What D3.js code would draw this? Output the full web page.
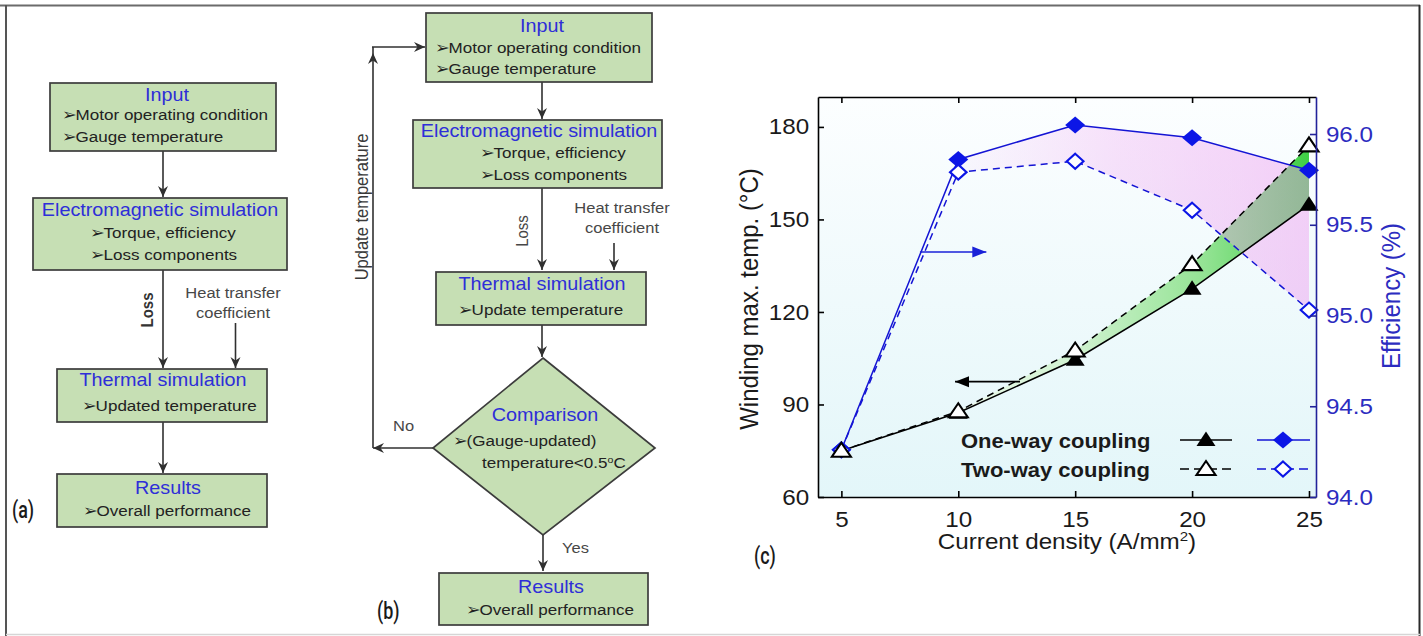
<!DOCTYPE html>
<html>
<head>
<meta charset="utf-8">
<script src="https://cdn.jsdelivr.net/npm/d3@7"></script>
<style>
  html, body { margin: 0; padding: 0; background: #fff; }
  svg { display: block; font-family: "Liberation Sans", Arial, Helvetica, sans-serif; }
</style>
</head>
<body>
<svg id="fig" width="1423" height="636"></svg>
<script>
// ---- data: panel (c) ----
const currentDensity = [5, 10, 15, 20, 25];                 // A/mm^2
const tempOneWay     = [75, 87.3, 104.5, 127.5, 154.8];      // winding max temp, degC
const tempTwoWay     = [75, 87.8, 107.5, 135.5, 174.0];
const effOneWay      = [94.26, 95.86, 96.05, 95.98, 95.80];  // efficiency, %
const effTwoWay      = [94.26, 95.79, 95.85, 95.58, 95.03];
const xTicks    = [5, 10, 15, 20, 25];
const tempTicks = [60, 90, 120, 150, 180];
const effTicks  = [94.0, 94.5, 95.0, 95.5, 96.0];
const legendLabels = ["One-way coupling", "Two-way coupling"];

// ---- flowchart texts ----
const inputItems   = ["Motor operating condition", "Gauge temperature"];
const emItems      = ["Torque, efficiency", "Loss components"];
const resultItems  = ["Overall performance"];

const svg = d3.select("#fig");
const SX = 1.1;                 // horizontal stretch applied to glyphs
const BLUE_T = "#2e2ed8";
const BOX_FILL = "#c6dfb4";
const BOX_STROKE = "#3c3c3c";
const LINE_C = "#303030";

function label(g, x, y, str, o = {}) {
  const t = g.append("text")
    .attr("transform", `translate(${x},${y}) scale(${o.sx ?? SX},1)` + (o.rot ? ` rotate(${o.rot})` : ""))
    .attr("text-anchor", o.anchor || "start")
    .attr("font-size", o.size || 15.5)
    .attr("fill", o.color || "#222");
  if (o.weight) t.attr("font-weight", o.weight);
  if (o.family) t.attr("font-family", o.family);
  if (Array.isArray(str)) {
    str.forEach(p => {
      const s = t.append("tspan").text(p.t);
      if (p.sup) s.attr("baseline-shift", "super").attr("font-size", "0.62em");
    });
  } else t.text(str);
  return t;
}

const defs = svg.append("defs");
defs.append("marker").attr("id", "arr")
  .attr("viewBox", "-12 -6 13 12").attr("refX", 0).attr("refY", 0)
  .attr("markerWidth", 13).attr("markerHeight", 12)
  .attr("markerUnits", "userSpaceOnUse").attr("orient", "auto")
  .append("path").attr("d", "M0,0 L-11,-5 L-7.5,0 L-11,5 Z").attr("fill", LINE_C);
[["triBlue", "#1a22d8"], ["triBlack", "#000"]].forEach(([id, c]) => {
  defs.append("marker").attr("id", id)
    .attr("viewBox", "-15 -7 16 14").attr("refX", 0).attr("refY", 0)
    .attr("markerWidth", 16).attr("markerHeight", 14)
    .attr("markerUnits", "userSpaceOnUse").attr("orient", "auto")
    .append("path").attr("d", "M0,0 L-14,-5.5 L-14,5.5 Z").attr("fill", c);
});

// ---- outer frame ----
svg.append("line").attr("x1", 0).attr("x2", 1420).attr("y1", 5.5).attr("y2", 5.5).attr("stroke", "#6b6b6b").attr("stroke-width", 2);
svg.append("line").attr("x1", 6).attr("x2", 6).attr("y1", 5).attr("y2", 636).attr("stroke", "#555").attr("stroke-width", 2);
svg.append("line").attr("x1", 1419.5).attr("x2", 1419.5).attr("y1", 5).attr("y2", 636).attr("stroke", "#2a2a2a").attr("stroke-width", 2);
svg.append("line").attr("x1", 6).attr("x2", 1420).attr("y1", 634.5).attr("y2", 634.5).attr("stroke", "#d6d6d6").attr("stroke-width", 1.5);

// ---- flowchart helpers ----
function box(g, x0, y0, x1, y1) {
  g.append("rect").attr("x", x0).attr("y", y0).attr("width", x1 - x0).attr("height", y1 - y0)
    .attr("fill", BOX_FILL).attr("stroke", BOX_STROKE).attr("stroke-width", 1.7);
}
function arrow(g, pts, head = true) {
  const p = g.append("path").attr("d", d3.line()(pts)).attr("fill", "none")
    .attr("stroke", LINE_C).attr("stroke-width", 1.6);
  if (head) p.attr("marker-end", "url(#arr)");
}
function title(g, x, y, s) { label(g, x, y, s, { anchor: "middle", size: 18, color: BLUE_T }); }
function item(g, x, y, s) { label(g, x, y, "\u27A2" + s, { size: 15.5, color: "#222" }); }
function note(g, x, y, s, o = {}) { label(g, x, y, s, Object.assign({ size: 15, color: "#474747" }, o)); }

// ---- panel (a) ----
const gA = svg.append("g");
arrow(gA, [[163, 151], [163, 197]]);
arrow(gA, [[163, 270], [163, 368]]);
arrow(gA, [[235.5, 323], [235.5, 368]]);
arrow(gA, [[163, 422], [163, 473]]);
box(gA, 50, 83, 276, 151);
title(gA, 167, 101, "Input");
inputItems.forEach((s, i) => item(gA, 62, 120 + i * 22, s));
box(gA, 33, 198, 287, 270);
title(gA, 160, 216, "Electromagnetic simulation");
emItems.forEach((s, i) => item(gA, 90, 238 + i * 21.5, s));
note(gA, 153, 310, "Loss", { rot: -90, anchor: "middle", weight: "bold", color: "#333" });
note(gA, 233, 298, "Heat transfer", { anchor: "middle" });
note(gA, 233, 318, "coefficient", { anchor: "middle" });
box(gA, 57, 369, 267, 422);
title(gA, 163, 386, "Thermal simulation");
item(gA, 82, 411, "Updated temperature");
box(gA, 57, 474, 267, 527);
title(gA, 168, 494, "Results");
item(gA, 83, 516, resultItems[0]);
label(gA, 12, 518, "(a)", { size: 23, sx: 0.78, family: "Roboto", weight: 500, color: "#1a1a1a" });

// ---- panel (b) ----
const gB = svg.append("g");
arrow(gB, [[542, 82], [542, 119]]);
arrow(gB, [[542, 188], [542, 270]]);
arrow(gB, [[614, 243], [614, 270]]);
arrow(gB, [[542, 325], [542, 357]]);
arrow(gB, [[433, 448], [373, 448]]);
arrow(gB, [[373, 448], [373, 53]]);
arrow(gB, [[373, 53], [373, 47], [373, 47]], false);
arrow(gB, [[372, 47], [425, 47]]);
arrow(gB, [[543, 535], [543, 571]]);
box(gB, 426, 13, 652, 82);
title(gB, 542, 32, "Input");
inputItems.forEach((s, i) => item(gB, 435, 53 + i * 20.5, s));
box(gB, 413, 120, 662, 188);
title(gB, 539, 137, "Electromagnetic simulation");
emItems.forEach((s, i) => item(gB, 480, 158 + i * 21.5, s));
note(gB, 528, 231, "Loss", { rot: -90, anchor: "middle" });
note(gB, 622, 213, "Heat transfer", { anchor: "middle" });
note(gB, 622, 233, "coefficient", { anchor: "middle" });
box(gB, 436, 272, 646, 325);
title(gB, 542, 290, "Thermal simulation");
item(gB, 458, 315, "Update temperature");
note(gB, 368, 207, "Update temperature", { rot: -90, anchor: "middle", size: 16.5, color: "#3a3a3a" });
gB.append("path").attr("d", "M543,358 L655,448 L543,535 L433,448 Z")
  .attr("fill", BOX_FILL).attr("stroke", BOX_STROKE).attr("stroke-width", 1.7);
title(gB, 545, 421, "Comparison");
item(gB, 453, 446, "(Gauge-updated)");
label(gB, 482, 468, [{ t: "temperature<0.5" }, { t: "o", sup: true }, { t: "C" }], { size: 15.5, color: "#222" });
note(gB, 393, 431, "No");
note(gB, 562, 553, "Yes");
box(gB, 439, 573, 648, 625);
title(gB, 551, 593, "Results");
item(gB, 466, 615, resultItems[0]);
label(gB, 377, 619, "(b)", { size: 23, sx: 0.78, family: "Roboto", weight: 500, color: "#1a1a1a" });

// ---- panel (c): chart ----
const X  = d3.scaleLinear().domain([4, 25.3]).range([818, 1316]);
const YL = d3.scaleLinear().domain([60, 189.7]).range([497, 97]);
const YR = d3.scaleLinear().domain([94, 96.204]).range([497, 97]);
const [px0, px1] = X.range();
const [py1, py0] = YL.range();

const bg = defs.append("linearGradient").attr("id", "plotBg").attr("x1", 0).attr("y1", 0).attr("x2", 0).attr("y2", 1);
bg.append("stop").attr("offset", 0).attr("stop-color", "#fcfeff");
bg.append("stop").attr("offset", 1).attr("stop-color", "#e3f6f9");

const gGreen = defs.append("linearGradient").attr("id", "gGreen").attr("gradientUnits", "userSpaceOnUse")
  .attr("x1", X(10)).attr("x2", X(25)).attr("y1", 0).attr("y2", 0);
[[0, "#eefaee"], [0.35, "#cdf1cd"], [0.7, "#94e394"], [1, "#3fcf45"]].forEach(([o, c]) =>
  gGreen.append("stop").attr("offset", o).attr("stop-color", c));
const gPink = defs.append("linearGradient").attr("id", "gPink").attr("gradientUnits", "userSpaceOnUse")
  .attr("x1", X(10)).attr("x2", X(25)).attr("y1", 0).attr("y2", 0);
[[0, 0.06], [0.45, 0.3], [1, 0.48]].forEach(([o, a]) =>
  gPink.append("stop").attr("offset", o).attr("stop-color", "#ee9ef0").attr("stop-opacity", a));

const gC = svg.append("g");
gC.append("rect").attr("x", px0).attr("y", py0).attr("width", px1 - px0).attr("height", py1 - py0)
  .attr("fill", "url(#plotBg)");

const fillIdx = d3.range(1, currentDensity.length);
const greenArea = d3.area().x(i => X(currentDensity[i])).y0(i => YL(tempOneWay[i])).y1(i => YL(tempTwoWay[i]));
const pinkArea  = d3.area().x(i => X(currentDensity[i])).y0(i => YR(effTwoWay[i])).y1(i => YR(effOneWay[i]));
gC.append("path").attr("d", greenArea(fillIdx)).attr("fill", "url(#gGreen)");
gC.append("path").attr("d", pinkArea(fillIdx)).attr("fill", "url(#gPink)");

const lineOf = (ys, yScale) => d3.line().x((d, i) => X(currentDensity[i])).y(d => yScale(d))(ys);
const BLUE = "#1414d4";
gC.append("path").attr("d", lineOf(effOneWay, YR)).attr("fill", "none").attr("stroke", BLUE).attr("stroke-width", 1.5);
gC.append("path").attr("d", lineOf(effTwoWay, YR)).attr("fill", "none").attr("stroke", BLUE).attr("stroke-width", 1.5).attr("stroke-dasharray", "7,5");
gC.append("path").attr("d", lineOf(tempOneWay, YL)).attr("fill", "none").attr("stroke", "#000").attr("stroke-width", 1.5);
gC.append("path").attr("d", lineOf(tempTwoWay, YL)).attr("fill", "none").attr("stroke", "#000").attr("stroke-width", 1.5).attr("stroke-dasharray", "7,5");

// direction arrows pointing to each axis
gC.append("line").attr("x1", X(8.36)).attr("x2", X(11.2)).attr("y1", YR(95.35)).attr("y2", YR(95.35))
  .attr("stroke", "#1a22d8").attr("stroke-width", 1.6).attr("marker-end", "url(#triBlue)");
gC.append("line").attr("x1", X(12.64)).attr("x2", X(9.86)).attr("y1", YL(97.4)).attr("y2", YL(97.4))
  .attr("stroke", "#000").attr("stroke-width", 1.6).attr("marker-end", "url(#triBlack)");

// marker shapes
const DIAMOND_F = "M0,-8.5 L10,0 L0,8.5 L-10,0 Z";
const DIAMOND_O = "M0,-7.5 L8.3,0 L0,7.5 L-8.3,0 Z";
const TRI_F = "M0,-8.5 L9.5,6 L-9.5,6 Z";
const TRI_O = "M0,-8 L9.5,6 L-9.5,6 Z";
function marks(vals, yScale, d, fill, stroke) {
  gC.append("g").selectAll("path").data(vals).join("path")
    .attr("transform", (v, i) => `translate(${X(currentDensity[i])},${yScale(v)})`)
    .attr("d", d).attr("fill", fill).attr("stroke", stroke).attr("stroke-width", stroke === "none" ? 0 : 2.1)
    .attr("stroke-linejoin", "miter");
}
marks(effOneWay, YR, DIAMOND_F, "#0c16e6", "none");
marks(effTwoWay, YR, DIAMOND_O, "#fff", "#0c16e6");
marks(tempOneWay, YL, TRI_F, "#000", "none");
marks(tempTwoWay, YL, TRI_O, "#fff", "#000");

// axes
function styleAxis(g, color, labelColor) {
  g.attr("font-family", null).attr("font-size", null);
  g.select(".domain").attr("stroke", color).attr("stroke-width", 1.6);
  g.selectAll(".tick line").attr("stroke", color).attr("stroke-width", 1.6);
  g.selectAll(".tick text").attr("fill", labelColor).attr("font-size", 22)
    .attr("transform", `scale(${SX},1)`);
}
const axL = gC.append("g").attr("transform", `translate(${px0},0)`)
  .call(d3.axisLeft(YL).tickValues(tempTicks).tickSizeInner(-6).tickSizeOuter(0).tickPadding(8));
styleAxis(axL, "#000", "#1a1a1a");
const axB = gC.append("g").attr("transform", `translate(0,${py1})`)
  .call(d3.axisBottom(X).tickValues(xTicks).tickSizeInner(-6).tickSizeOuter(0).tickPadding(14));
styleAxis(axB, "#000", "#1a1a1a");
const axT = gC.append("g").attr("transform", `translate(0,${py0})`)
  .call(d3.axisTop(X).tickValues(xTicks).tickSizeInner(-6).tickSizeOuter(0).tickFormat(""));
styleAxis(axT, "#000", "#1a1a1a");
const axR = gC.append("g").attr("transform", `translate(${px1},0)`)
  .call(d3.axisRight(YR).tickValues(effTicks).tickFormat(d3.format(".1f")).tickSizeInner(-6).tickSizeOuter(0).tickPadding(9));
styleAxis(axR, "#22229a", "#2c2cc0");

// axis titles
label(gC, 758, 299, "Winding max. temp. (\u00B0C)", { rot: -90, anchor: "middle", size: 24, color: "#1a1a1a" });
label(gC, 1400, 296, "Efficiency (%)", { rot: -90, anchor: "middle", size: 24, color: "#2c2cc0" });
label(gC, 1067, 549, [{ t: "Current density (A/mm" }, { t: "2", sup: true }, { t: ")" }], { anchor: "middle", size: 22, color: "#1a1a1a" });
label(gC, 754, 564, "(c)", { size: 23, sx: 0.78, family: "Roboto", weight: 500, color: "#1a1a1a" });

// legend
const legendY = [440, 469];
legendLabels.forEach((s, i) => {
  const y = legendY[i];
  const dash = i === 0 ? null : "9,5";
  label(gC, 961, y + 8, s, { size: 20, weight: "bold", color: "#1a1a1a" });
  const l1 = gC.append("line").attr("x1", 1180).attr("x2", 1232).attr("y1", y).attr("y2", y).attr("stroke", "#000").attr("stroke-width", 1.6);
  const l2 = gC.append("line").attr("x1", 1257).attr("x2", 1310).attr("y1", y).attr("y2", y).attr("stroke", BLUE).attr("stroke-width", 1.6);
  if (dash) { l1.attr("stroke-dasharray", dash); l2.attr("stroke-dasharray", dash); }
  gC.append("path").attr("transform", `translate(1206,${y})`).attr("d", i === 0 ? TRI_F : TRI_O)
    .attr("fill", i === 0 ? "#000" : "#fff").attr("stroke", i === 0 ? "none" : "#000").attr("stroke-width", 2.1);
  gC.append("path").attr("transform", `translate(1283,${y})`).attr("d", i === 0 ? DIAMOND_F : DIAMOND_O)
    .attr("fill", i === 0 ? "#0c16e6" : "#fff").attr("stroke", i === 0 ? "none" : "#0c16e6").attr("stroke-width", 2.1);
});
</script>
</body>
</html>
